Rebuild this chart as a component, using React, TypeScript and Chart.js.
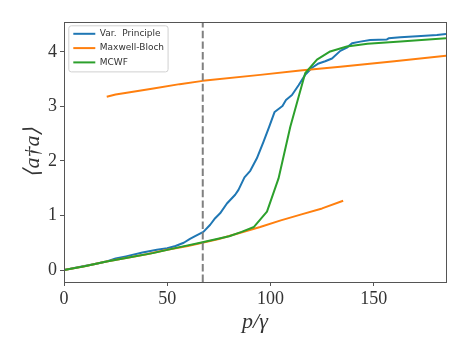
import React, { useEffect, useRef } from "react";
import { Chart, registerables } from "chart.js";

Chart.register(...registerables);

// ---- data ----
const seriesLabels = ["Var.  Principle", "Maxwell-Bloch", "MCWF"];
const seriesColors = ["#1f77b4", "#ff7f0e", "#2ca02c"];

const varX = [0, 8, 15, 20, 25, 30, 38, 45, 50, 54, 58, 61, 63.5, 67.5, 70.8, 73.2, 75.6, 78.9, 82.9, 84.5, 87.4, 90.2, 93.4, 96.6, 99.4, 102, 105.8, 107.5, 110.4, 113.6, 116.8, 120.1, 123.3, 126.5, 129.8, 133.8, 137, 139.5, 143.5, 148.3, 156.4, 157.2, 162.9, 171, 180.6, 185];
const varY = [0, 0.06, 0.11, 0.15, 0.21, 0.25, 0.32, 0.37, 0.4, 0.44, 0.5, 0.57, 0.62, 0.7, 0.83, 0.95, 1.04, 1.22, 1.38, 1.47, 1.7, 1.82, 2.05, 2.35, 2.63, 2.9, 3.01, 3.12, 3.21, 3.39, 3.58, 3.71, 3.79, 3.83, 3.88, 4.02, 4.08, 4.16, 4.19, 4.22, 4.23, 4.25, 4.27, 4.29, 4.31, 4.33];

const mbLowX = [0, 10, 20, 30, 40, 50, 60, 67, 75, 85, 95, 105, 115, 125, 135.2];
const mbLowY = [0, 0.07, 0.15, 0.22, 0.29, 0.37, 0.44, 0.5, 0.57, 0.68, 0.79, 0.91, 1.02, 1.13, 1.27];

const mbUpX = [20.7, 25, 30.4, 43.3, 56, 67.2, 95, 114.4, 133.8, 160, 185.2];
const mbUpY = [3.18, 3.22, 3.25, 3.33, 3.41, 3.47, 3.58, 3.66, 3.73, 3.83, 3.93];

const mcwfX = [0, 10, 20, 30, 43, 56, 66, 73, 80, 86, 92, 98.3, 103.9, 109.6, 113.8, 116.8, 122.5, 128.9, 137, 147, 163, 185];
const mcwfY = [0, 0.07, 0.15, 0.22, 0.31, 0.42, 0.5, 0.56, 0.62, 0.7, 0.79, 1.07, 1.68, 2.63, 3.2, 3.61, 3.86, 4.01, 4.1, 4.15, 4.19, 4.25];

const thresholdX = 67.2;
const xTicks = [0, 50, 100, 150];
const yTicks = [0, 1, 2, 3, 4];
const xMin = 0;
const xMax = 185;
const yMin = -0.22;
const yMax = 4.55;

const zip = (xs: number[], ys: number[]) => xs.map((x, i) => ({ x, y: ys[i] as number | null }));

export default function App() {
  const ref = useRef<HTMLCanvasElement | null>(null);

  useEffect(() => {
    document.body.style.margin = "0";
    const canvas = ref.current;
    if (!canvas) return;

    const mbPoints = [
      ...zip(mbLowX, mbLowY),
      { x: mbLowX[mbLowX.length - 1] + 0.01, y: null },
      ...zip(mbUpX, mbUpY),
    ];

    const framePlugin = {
      id: "frame",
      afterLayout(chart: any) {
        const lg = chart.legend;
        if (lg) {
          const h = lg.height;
          lg.left = chart.chartArea.left + 4;
          lg.top = chart.chartArea.top + 2;
          lg.bottom = lg.top + h;
          lg.right = lg.left + lg.width;
        }
      },
      beforeDraw(chart: any) {
        const lg = chart.legend;
        if (!lg || !lg.legendHitBoxes || !lg.legendHitBoxes.length) return;
        const hb = lg.legendHitBoxes;
        let l = Infinity, t = Infinity, r = -Infinity, b = -Infinity;
        for (const h of hb) {
          l = Math.min(l, h.left);
          t = Math.min(t, h.top);
          r = Math.max(r, h.left + h.width);
          b = Math.max(b, h.top + h.height);
        }
        const ctx = chart.ctx;
        ctx.save();
        const x0 = l - 4.5, y0 = t - 3.5, x1 = r + 4, y1 = b + 5;
        const rad = 2.5;
        ctx.beginPath();
        ctx.moveTo(x0 + rad, y0);
        ctx.arcTo(x1, y0, x1, y1, rad);
        ctx.arcTo(x1, y1, x0, y1, rad);
        ctx.arcTo(x0, y1, x0, y0, rad);
        ctx.arcTo(x0, y0, x1, y0, rad);
        ctx.closePath();
        ctx.fillStyle = "rgba(255,255,255,0.8)";
        ctx.fill();
        ctx.strokeStyle = "#d0d0d0";
        ctx.lineWidth = 1;
        ctx.stroke();
        ctx.restore();
      },
      afterDatasetsDraw(chart: any) {
        const { ctx, chartArea, scales } = chart;
        const px = scales.x.getPixelForValue(thresholdX);
        ctx.save();
        ctx.strokeStyle = "#808080";
        ctx.lineWidth = 2;
        ctx.setLineDash([7.4, 3.2]);
        ctx.beginPath();
        ctx.moveTo(px, chartArea.bottom);
        ctx.lineTo(px, chartArea.top);
        ctx.stroke();
        ctx.restore();
      },
      afterDraw(chart: any) {
        const { ctx, chartArea } = chart;
        ctx.save();
        ctx.strokeStyle = "#555555";
        ctx.lineWidth = 1;
        ctx.strokeRect(
          Math.round(chartArea.left) + 0.5,
          Math.round(chartArea.top) + 0.5,
          Math.round(chartArea.right - chartArea.left),
          Math.round(chartArea.bottom - chartArea.top)
        );
        ctx.restore();
      },
    };

    const tickFont = { family: "'Liberation Serif', serif", size: 18 };

    const chart = new Chart(canvas, {
      type: "line",
      data: {
        datasets: [
          {
            label: seriesLabels[0],
            data: zip(varX, varY),
            borderColor: seriesColors[0],
            backgroundColor: seriesColors[0],
            order: 2,
          },
          {
            label: seriesLabels[1],
            data: mbPoints,
            borderColor: seriesColors[1],
            backgroundColor: seriesColors[1],
            order: 1,
            spanGaps: false,
          },
          {
            label: seriesLabels[2],
            data: zip(mcwfX, mcwfY),
            borderColor: seriesColors[2],
            backgroundColor: seriesColors[2],
            order: 0,
          },
        ] as any,
      },
      options: {
        animation: false,
        responsive: false,
        maintainAspectRatio: false,
        events: [],
        elements: {
          point: { radius: 0, borderWidth: 2 },
          line: { borderWidth: 2, tension: 0, fill: false, borderJoinStyle: "round" },
        },
        layout: { padding: { top: 22, right: 22, left: 0, bottom: 0 } },
        scales: {
          x: {
            type: "linear",
            min: xMin,
            max: xMax,
            afterBuildTicks: (s: any) => {
              s.ticks = xTicks.map((v) => ({ value: v }));
            },
            afterFit: (s: any) => {
              s.height = 69;
            },
            grid: { drawOnChartArea: false, drawTicks: true, tickLength: 4, tickColor: "#555", color: "#555" },
            border: { display: true, color: "#555" },
            ticks: { font: tickFont, color: "#333", padding: 2, maxRotation: 0 },
            title: {
              display: true,
              text: "p/γ",
              color: "#333",
              font: { family: "'Liberation Serif', serif", size: 22, style: "italic" },
              padding: { top: 0, bottom: 16 },
            },
          },
          y: {
            type: "linear",
            min: yMin,
            max: yMax,
            afterBuildTicks: (s: any) => {
              s.ticks = yTicks.map((v) => ({ value: v }));
            },
            afterFit: (s: any) => {
              s.width = 64;
            },
            grid: { drawOnChartArea: false, drawTicks: true, tickLength: 4, tickColor: "#555", color: "#555" },
            border: { display: true, color: "#555" },
            ticks: { font: tickFont, color: "#333", padding: 3 },
            title: {
              display: true,
              text: "⟨a†a⟩",
              color: "#333",
              font: { family: "'Liberation Serif', serif", size: 22, style: "italic" },
              padding: { top: 20, bottom: 0 },
            },
          },
        },
        plugins: {
          tooltip: { enabled: false },
          legend: {
            display: true,
            position: "chartArea",
            align: "start",
            labels: {
              font: { family: "'DejaVu Sans', sans-serif", size: 9 },
              color: "#333",
              usePointStyle: true,
              pointStyle: "line",
              pointStyleWidth: 22,
              padding: 5.3,
              sort: (a: any, b: any) => a.datasetIndex - b.datasetIndex,
            },
          },
        },
      } as any,
      plugins: [framePlugin],
    });

    return () => chart.destroy();
  }, []);

  return (
    <div style={{ width: 468, height: 351 }}>
      <canvas ref={ref} width={468} height={351} style={{ display: "block", width: 468, height: 351 }} />
    </div>
  );
}
